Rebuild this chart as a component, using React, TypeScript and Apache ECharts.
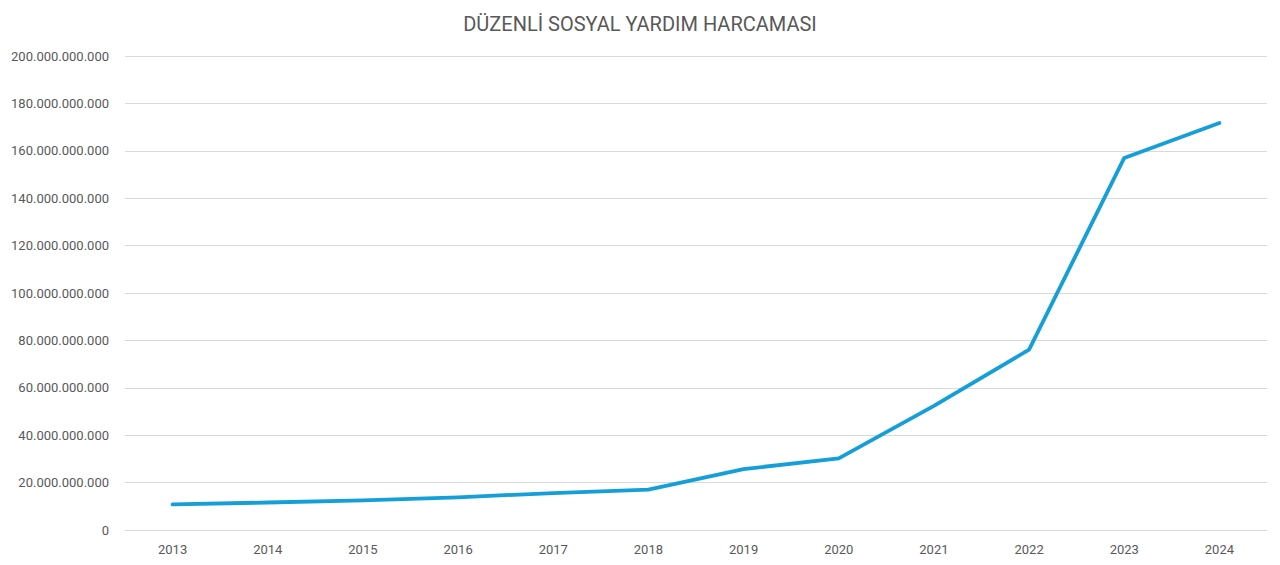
import React, { useEffect, useRef } from "react";
import * as echarts from "echarts";

const years = ["2013", "2014", "2015", "2016", "2017", "2018", "2019", "2020", "2021", "2022", "2023", "2024"];
const spending = [
  10.8e9, 11.6e9, 12.5e9, 13.8e9, 15.6e9, 17.0e9, 25.7e9, 30.2e9, 52.4e9, 76.1e9, 157.0e9, 171.7e9,
];
const titleText = "DÜZENLİ SOSYAL YARDIM HARCAMASI";

function fmt(v: number): string {
  return String(Math.round(v)).replace(/\B(?=(\d{3})+(?!\d))/g, ".");
}

export default function App() {
  const ref = useRef<HTMLDivElement>(null);
  useEffect(() => {
    document.body.style.margin = "0";
    const chart = echarts.init(ref.current!, null, { renderer: "svg" });
    chart.setOption({
      animation: false,
      backgroundColor: "#ffffff",
      title: {
        text: titleText,
        left: "center",
        top: 9,
        textStyle: {
          fontFamily: "Roboto",
          fontSize: 20,
          fontWeight: "normal",
          color: "#595959",
        },
      },
      grid: { left: 125, right: 13, top: 56, bottom: 35, containLabel: false },
      xAxis: {
        type: "category",
        data: years,
        boundaryGap: true,
        axisLine: { show: true, lineStyle: { color: "#d9d9d9", width: 1 } },
        axisTick: { show: false },
        axisLabel: {
          color: "#595959",
          fontFamily: "Roboto",
          fontSize: 13,
          margin: 13,
        },
      },
      yAxis: {
        type: "value",
        min: 0,
        max: 200e9,
        interval: 20e9,
        axisLine: { show: false },
        axisTick: { show: false },
        splitLine: { lineStyle: { color: "#d9d9d9", width: 1 } },
        axisLabel: {
          color: "#595959",
          fontFamily: "Roboto",
          fontSize: 13,
          margin: 16,
          formatter: (v: number) => fmt(v),
        },
      },
      series: [
        {
          type: "line",
          data: spending,
          symbol: "none",
          lineStyle: { color: "#149fd8", width: 3.8, cap: "round", join: "round" },
        },
      ],
    });
    return () => chart.dispose();
  }, []);
  return <div ref={ref} style={{ width: 1280, height: 565 }} />;
}
